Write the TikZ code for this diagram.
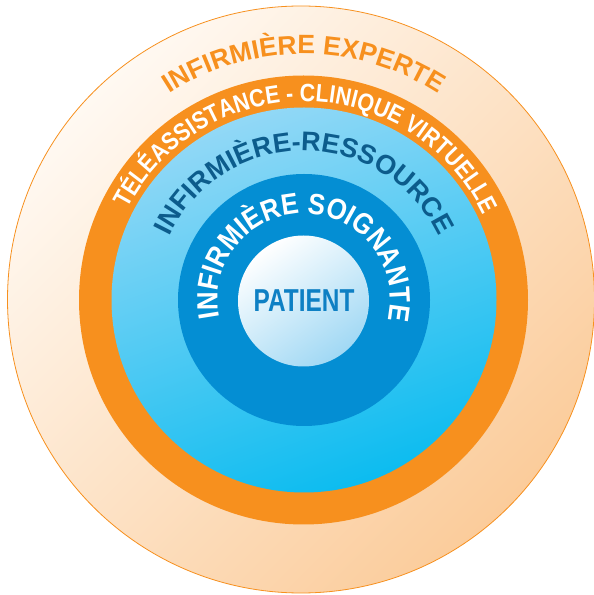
\documentclass[tikz,border=0pt]{standalone}
\usepackage{fontspec}
\setmainfont{Liberation Sans}
\newfontfamily\teleFont[FakeStretch=0.86]{Liberation Sans}
\newfontfamily\nurseFont[FakeStretch=0.88]{Liberation Sans}
\newfontfamily\patientFont[FakeStretch=0.77]{Liberation Sans}
\usepackage{xcolor}
\usepackage{tikz}
\usetikzlibrary{decorations.text}

\definecolor{ringorange}{RGB}{247,144,30}
\definecolor{peachlight}{RGB}{255,249,242}
\definecolor{peachdark}{RGB}{251,204,155}
\definecolor{skytop}{RGB}{146,216,246}
\definecolor{skybottom}{RGB}{12,188,240}
\definecolor{nurseblue}{RGB}{4,142,211}
\definecolor{patientblue}{RGB}{160,216,244}
\definecolor{patienttext}{RGB}{14,128,196}
\definecolor{resourcetext}{RGB}{12,92,140}

\begin{document}
\begin{tikzpicture}[x=1pt, y=1pt,
  disc/.style={circle, inner sep=0pt, outer sep=0pt},
  ringtext/.style={decorate, decoration={text along path, text align=center}}
]
\useasboundingbox (0,0) rectangle (594,595);

% rings, outside in
\node[disc, minimum size=587pt, draw=ringorange, line width=0.8pt,
  top color=peachlight, bottom color=peachdark, shading angle=45] (expert) at (301,295.5) {};
\node[disc, minimum size=449pt, fill=ringorange] (tele) at (303.5,295) {};
\node[disc, minimum size=385pt, top color=skytop, bottom color=skybottom,
  shading angle=20] (resource) at (304,295) {};
\node[disc, minimum size=252pt, fill=nurseblue] (nurse) at (304,295) {};
\node[disc, minimum size=131pt, top color=white, bottom color=patientblue,
  shading angle=35] (core) at (303.5,294) {};
\node[font=\patientFont\bfseries\fontsize{31.7}{34}\selectfont, text=patienttext] (patient) at (304,294) {PATIENT};

% curved labels
\path[ringtext, decoration={text={|\bfseries\fontsize{26.5}{30}\selectfont\color{ringorange}|INFIRMIÈRE EXPERTE}}]
  (resource.center) ++(170:246) arc[start angle=170, end angle=10, radius=246];
\path[ringtext, decoration={text={|\teleFont\bfseries\fontsize{25}{28}\selectfont\color{white}|TÉLÉASSISTANCE - CLINIQUE VIRTUELLE}}]
  (resource.center) ++(179:198.5) arc[start angle=179, end angle=-1, radius=198.5];
\path[ringtext, decoration={text={|\bfseries\fontsize{27}{30}\selectfont\color{resourcetext}|INFIRMIÈRE-RESSOURCE}}]
  (resource.center) ++(180:149) arc[start angle=180, end angle=0, radius=149];
\path[ringtext, decoration={text={|\nurseFont\bfseries\fontsize{29.3}{32}\selectfont\color{white}|INFIRMIÈRE SOIGNANTE}}]
  (nurse.center) ++(209:86.5) arc[start angle=209, end angle=-31, radius=86.5];

\end{tikzpicture}
\end{document}
